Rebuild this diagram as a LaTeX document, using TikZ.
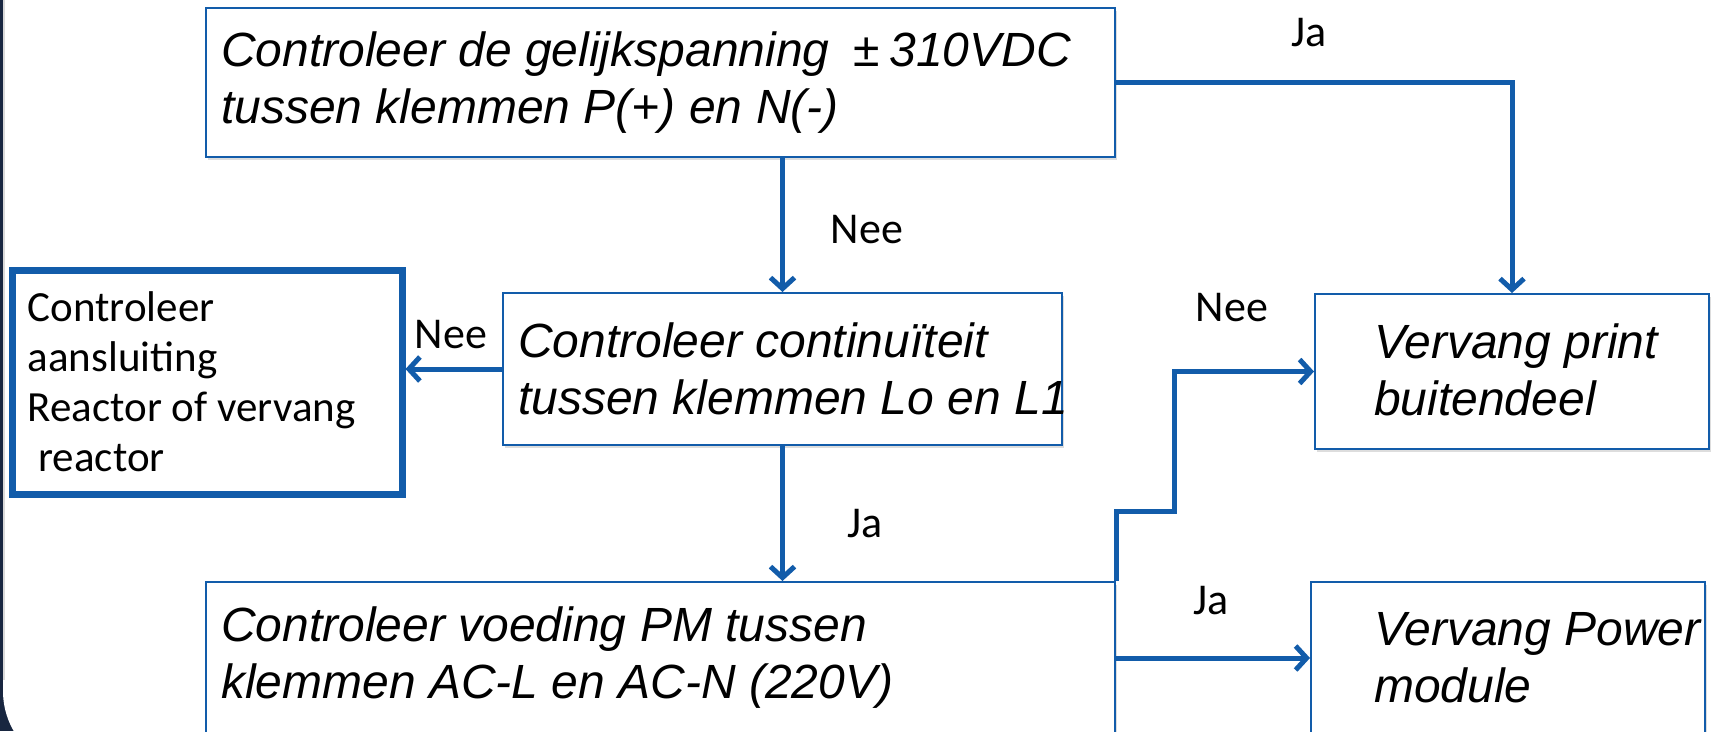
\documentclass[tikz,border=0pt]{standalone}
\usepackage{fontspec}
\setmainfont{Liberation Sans}
\newfontfamily\calibri{Carlito}
\usetikzlibrary{arrows.meta,shadows}
\definecolor{lineblue}{RGB}{18,92,170}
\definecolor{navybg}{RGB}{24,38,64}
\begin{document}
\begin{tikzpicture}[x=1pt,y=-1pt,
  box/.style={draw=lineblue, line width=2pt, fill=white, rectangle, inner sep=0pt,
    drop shadow={shadow xshift=2pt, shadow yshift=-3pt, opacity=0.22, fill=black!60}},
  thickbox/.style={draw=lineblue, line width=7pt, fill=white, rectangle, inner sep=0pt},
  boxtext/.style={inner sep=0pt, align=left, anchor=west,
    font={\fontsize{48}{57}\selectfont\itshape}},
  smalltext/.style={inner sep=0pt, align=left, anchor=west,
    font={\calibri\fontsize{43}{50}\selectfont}},
  lbl/.style={inner sep=0pt, font={\calibri\fontsize{44}{50}\selectfont}},
  arr/.style={draw=lineblue, line width=5pt, -{Straight Barb[length=11pt,width=24pt]}},
]
\useasboundingbox (0,0) rectangle (1721,731);
\begin{scope}
\clip (0,0) rectangle (1721,731);
% background
\fill[navybg] (0,0) rectangle (1721,731);
\fill[white, rounded corners=80pt] (3,-100) rectangle (1850,771);
\draw[black!15, line width=1.5pt] (3.75,0) -- (3.75,680);

% boxes
\node[box, minimum width=909pt, minimum height=149pt] (b1) at (660.5,82.5) {};
\node[boxtext] (t1) at ([xshift=16pt]b1.west)
  {Controleer de gelijkspanning\hspace{0.5em}{\upshape ±}\hspace{0.2em}310VDC\\tussen klemmen P(+) en N(-)};

\node[box, minimum width=559pt, minimum height=152pt] (b2) at (782.5,369) {};
\node[boxtext] (t2) at ([xshift=16pt]b2.west)
  {Controleer continuïteit\\tussen klemmen Lo en L1};

\node[thickbox, minimum width=390pt, minimum height=224pt] (b3) at (207,382) {};
\node[smalltext] (t3) at ([xshift=19pt]b3.west)
  {Controleer\\aansluiting\\Reactor of vervang\\\hspace*{0.25em}reactor};

\node[box, minimum width=394pt, minimum height=155pt] (b4) at (1512,371.5) {};
\node[boxtext] (t4) at ([xshift=60pt,yshift=2pt]b4.west)
  {Vervang print\\buitendeel};

\node[box, minimum width=909pt, minimum height=152pt] (b5) at (660.5,658) {};
\node[boxtext] (t5) at ([xshift=16pt]b5.west)
  {Controleer voeding PM tussen\\klemmen AC-L en AC-N (220V)};

\node[box, minimum width=394pt, minimum height=152pt] (b6) at (1508,658) {};
\node[boxtext] (t6) at ([xshift=64pt]b6.west)
  {Vervang Power\\module};

% connectors
\draw[arr] (b1.south -| b2.north) -- (b2.north);
\draw[arr] (b2.south) -- (b2.south |- b5.north);
\draw[arr] (b2.west) -- (b2.west -| b3.east);
\draw[arr] (b1.east) -| (b4.north);
\coordinate (s1) at (1174,511);
\draw[arr] (b5.north east) |- (s1) |- (b4.west);
\draw[arr] (b5.east) -- (b6.west);

% labels
\node[lbl] (l1) at (1309,33) {Ja};
\node[lbl] (l2) at (867,230) {Nee};
\node[lbl] (l3) at (451,335) {Nee};
\node[lbl] (l4) at (865,524) {Ja};
\node[lbl] (l5) at (1232,308) {Nee};
\node[lbl] (l6) at (1211,601) {Ja};
\end{scope}
\end{tikzpicture}
\end{document}
